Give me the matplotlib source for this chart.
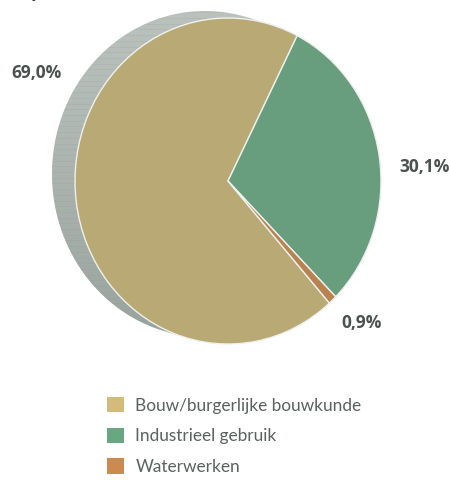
import numpy as np
import matplotlib
matplotlib.use("Agg")
import matplotlib.pyplot as plt
from matplotlib.patches import Patch, Polygon

# data
categories = ["Bouw/burgerlijke bouwkunde", "Industrieel gebruik", "Waterwerken"]
shares = [69.0, 30.1, 0.9]
labels = ["69,0%", "30,1%", "0,9%"]
pie_colors = ["#b8a975", "#689d7e", "#b8834f"]
legend_colors = ["#d4bb7b", "#67a883", "#cc8a4f"]

W, H = 449, 480
cx, cy, rx, ry = 228, 181, 153, 163   # pie centre / radii in pixels

fig = plt.figure(figsize=(W / 100, H / 100), dpi=100)
ax = fig.add_axes([0, 0, 1, 1])

# 3d side of the disc, shifted up-left
off = np.array([-23 / rx, 7 / ry])
t = np.linspace(0, 2 * np.pi, 720)
pts = np.c_[np.cos(t), np.sin(t)]
shift = (pts @ off) > 0
pts[shift] += off
side = Polygon(pts, closed=True, facecolor="none", edgecolor="none")
ax.add_patch(side)
grad = np.linspace(0, 1, 256)[:, None]
img = ax.imshow(grad, cmap=matplotlib.colors.LinearSegmentedColormap.from_list(
    "side", ["#97a19c", "#aab3ae", "#bcc3bf"]), extent=(-1.3, 1.1, 1.1, -1.1),
    aspect="auto", zorder=1)
img.set_clip_path(side)
for yy in np.arange(-1.1, 1.1, 0.035):
    ln, = ax.plot([-1.3, 1.1], [yy, yy], color="#8f9a94", lw=0.4, alpha=0.3, zorder=1.5)
    ln.set_clip_path(side)

wedges, _ = ax.pie(shares, colors=pie_colors, startangle=311.5, counterclock=False,
                   radius=1.0, wedgeprops=dict(edgecolor="#eef1ee", linewidth=1.0))
for w in wedges:
    w.set_zorder(2)

# percentage labels
label_pos = [(37, 73), (425, 167), (362, 323)]
for txt, (px, py) in zip(labels, label_pos):
    ax.text((px - cx) / rx, (cy - py) / ry, txt, ha="center", va="center",
            fontsize=12.5, fontweight="bold", color="#4b514e", family="Open Sans")

# clipped title fragment at the very top
fig.text(0.0, 1 + 3 / H, "ter productie),", ha="left", va="baseline", fontsize=13,
         fontweight="bold", color="#3e4542", family="Open Sans")

ax.set_aspect("auto")
ax.set_xlim((0 - cx) / rx, (W - cx) / rx)
ax.set_ylim((cy - H) / ry, cy / ry)
ax.axis("off")

handles = [Patch(facecolor=c, edgecolor="none") for c in legend_colors]
fig.legend(handles, categories, loc="upper left", bbox_to_anchor=(107 / W, 1 - 397 / H),
           frameon=False, borderpad=0, borderaxespad=0,
           handlelength=1.0, handleheight=1.0, handletextpad=0.65,
           labelspacing=0.82, prop=dict(family="Lato", size=12.4), labelcolor="#5a625e")

fig.savefig("out.png", dpi=100)
